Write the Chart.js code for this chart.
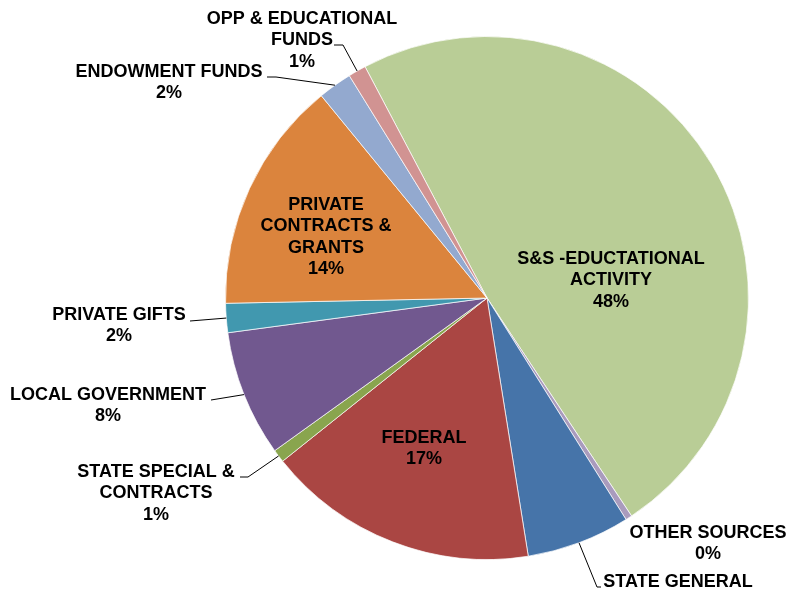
<!DOCTYPE html>
<html>
<head>
<meta charset="utf-8">
<script src="https://cdn.jsdelivr.net/npm/chart.js@4/dist/chart.umd.min.js"></script>
<style>
  html, body { margin: 0; padding: 0; background: #fff; }
</style>
</head>
<body>
<canvas id="fundPie" width="791" height="594"></canvas>
<script>
// slice names (line breaks as shown on the chart)
const categories = [
    'S&S -EDUCTATIONAL\nACTIVITY',
    'OTHER SOURCES',
    'STATE GENERAL',
    'FEDERAL',
    'STATE SPECIAL &\nCONTRACTS',
    'LOCAL GOVERNMENT',
    'PRIVATE GIFTS',
    'PRIVATE\nCONTRACTS &\nGRANTS',
    'ENDOWMENT FUNDS',
    'OPP & EDUCATIONAL\nFUNDS'
];
// share of revenue, percent
const shares = [48.4, 0.4, 6.4, 16.8, 0.8, 7.8, 1.8, 14.4, 2.1, 1.1];
const sliceColors = [
    '#B9CD96', '#A99BBD', '#4674A9', '#AA4643', '#89A54E',
    '#71588F', '#4198AF', '#DB843D', '#93A9CF', '#D19392'
];

// label layout: centre x, first line y
const labelPos = [
    [611, 259], [708, 533], [678, 582], [424, 438], [156, 472],
    [108, 395], [119, 315], [326, 205], [169, 72], [302, 19]
];
// leader lines: start x, start y, horizontal elbow length (null = none)
const leaders = [
    null, null, [601, 587, -4], null, [240, 477, 8],
    [211, 400, 0], [190, 321, 0], null, [267, 77, 9], [334, 45, 9]
];
const lineHeight = 21.5;

const sliceLabels = {
    id: 'sliceLabels',
    afterDatasetsDraw(chart) {
        const ctx = chart.ctx;
        const meta = chart.getDatasetMeta(0);
        const values = chart.data.datasets[0].data;
        const total = values.reduce((a, b) => a + b, 0);
        ctx.save();
        ctx.font = 'bold 18px "Liberation Sans", Arial, sans-serif';
        ctx.fillStyle = '#000';
        ctx.strokeStyle = '#000';
        ctx.lineWidth = 1;
        ctx.textAlign = 'center';
        ctx.textBaseline = 'middle';
        meta.data.forEach((arc, i) => {
            const pos = labelPos[i];
            const lines = chart.data.labels[i].split('\n')
                .concat(Math.round(values[i] / total * 100) + '%');
            lines.forEach((t, k) => ctx.fillText(t, pos[0], pos[1] + k * lineHeight));

            const lead = leaders[i];
            if (lead) {
                const p = arc.getProps(['x', 'y', 'startAngle', 'endAngle', 'outerRadius'], true);
                const mid = (p.startAngle + p.endAngle) / 2;
                ctx.beginPath();
                ctx.moveTo(lead[0], lead[1]);
                ctx.lineTo(lead[0] + lead[2], lead[1]);
                ctx.lineTo(p.x + Math.cos(mid) * p.outerRadius, p.y + Math.sin(mid) * p.outerRadius);
                ctx.stroke();
            }
        });
        ctx.restore();
    }
};

const ctxPie = document.getElementById('fundPie').getContext('2d');
const fundPie = new Chart(ctxPie, {
    type: 'pie',
    data: {
        labels: categories,
        datasets: [{
            data: shares,
            backgroundColor: sliceColors,
            borderColor: 'rgba(255, 255, 255, 0.7)',
            borderWidth: 1
        }]
    },
    options: {
        responsive: false,
        animation: false,
        rotation: -27.8,
        layout: {
            padding: { left: 225, right: 42, top: 36, bottom: 34 }
        },
        plugins: {
            legend: { display: false },
            tooltip: { enabled: false }
        }
    },
    plugins: [sliceLabels]
});
</script>
</body>
</html>
